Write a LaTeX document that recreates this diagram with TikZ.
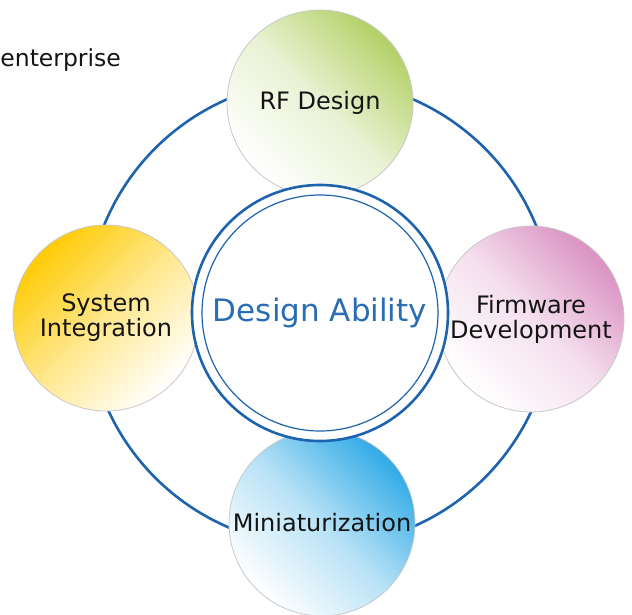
\documentclass[tikz,border=0pt]{standalone}
\usepackage{fontspec}
\setmainfont{DejaVu Sans}
\usetikzlibrary{shapes}

\definecolor{ringblue}{HTML}{1E63AE}
\definecolor{hubtext}{HTML}{2A6DB5}
\definecolor{textdark}{HTML}{141414}
\definecolor{edgegray}{HTML}{C8C8C8}
\definecolor{rfgreen}{HTML}{B2D166}
\definecolor{fwpink}{HTML}{DA92C2}
\definecolor{sysyellow}{HTML}{FFCB05}
\definecolor{minblue}{HTML}{30AAE6}

\begin{document}
\begin{tikzpicture}[thick, x=1pt, y=-1pt]
\tikzstyle{vertexc}=[circle, draw=edgegray, line width=0.8pt, minimum size=186pt, inner sep=0pt, align=center, text=textdark, font=\fontsize{24}{25}\selectfont]
\tikzstyle{hubc}=[circle, draw=ringblue, line width=1.2pt, fill=white, minimum size=236pt, inner sep=0pt, text=hubtext, font=\fontsize{31}{32}\selectfont]
\tikzstyle{ringstyle}=[draw=ringblue, line width=2.6pt]

\useasboundingbox (0,0) rectangle (632,615);
\coordinate (O) at (320,313);
\node[anchor=base west, inner sep=0pt, text=textdark, font=\fontsize{23.5}{25}\selectfont] (E0) at (0,67) {enterprise};
\draw[ringstyle] (O) circle (233pt);

\node[vertexc, top color=rfgreen, bottom color=white, middle color=rfgreen!28!white, shading angle=-45] (G1x0) at (320,103) {RF Design};
\node[vertexc, top color=sysyellow, bottom color=white, middle color=sysyellow!45!white, shading angle=45] (G0x1) at (106,318) {System\\Integration};
\node[vertexc, top color=fwpink, bottom color=white, middle color=fwpink!28!white, shading angle=-45] (G2x1) at (531,319) {Firmware\\Development};
\node[vertexc, top color=minblue, bottom color=white, middle color=minblue!35!white, shading angle=-45] (G1x2) at (322,523) {Miniaturization};

\draw[ringstyle, fill=white] (O) circle (128pt);
\node[hubc] (G1x1) at (O) {Design Ability};
\end{tikzpicture}
\end{document}
